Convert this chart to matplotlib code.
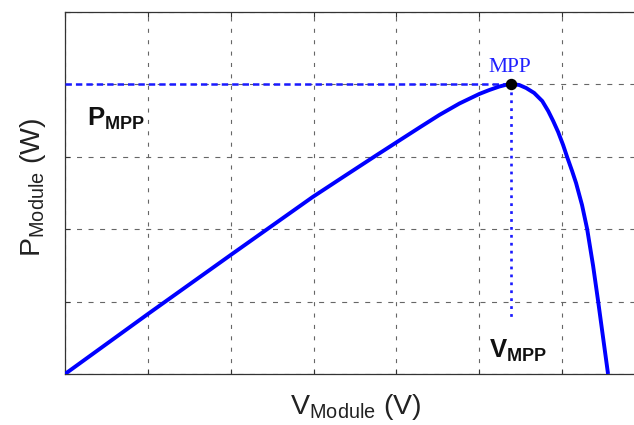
import matplotlib
matplotlib.use("Agg")
import matplotlib.pyplot as plt

# ---- data ----
v_module = [0.0, 5.0, 10.0, 14.94, 16.87, 18.73, 20.18, 21.39, 22.59, 23.80, 25.0,
            25.60, 26.20, 26.57, 26.93, 27.41, 27.83, 28.31, 28.80, 29.16, 29.46,
            29.76, 30.06, 30.30, 30.60, 30.84, 31.20, 31.51, 31.87, 32.17, 32.47, 32.77]
p_module = [0.0, 41.4, 82.2, 122.2, 136.7, 150.6, 161.3, 170.2, 178.9, 186.8, 193.4,
            196.1, 198.5, 199.6, 200.3, 199.6, 197.5, 194.1, 188.5, 181.6, 174.7,
            167.1, 158.1, 149.9, 140.2, 131.9, 116.7, 100.1, 74.6, 50.4, 25.2, 0.0]
v_mpp = 26.93
p_mpp = 200.3
v_mpp_line_bottom = 39.4
x_ticks = [0, 5, 10, 15, 20, 25, 30, 35]
y_ticks = [0, 50, 100, 150, 200, 250]

plt.rcParams['lines.scale_dashes'] = False
plt.rcParams['mathtext.fontset'] = 'custom'
plt.rcParams['mathtext.rm'] = 'Liberation Sans'
plt.rcParams['mathtext.bf'] = 'Liberation Sans:bold'
plt.rcParams['font.family'] = ['Liberation Sans', 'DejaVu Sans']

W, H = 634, 425
fig = plt.figure(figsize=(W / 100, H / 100), dpi=100)

def fx(px):
    return px / W

def fy(py):
    return 1 - py / H

ax_left, ax_right, ax_top, ax_bottom = 65, 645, 12, 374
ax = fig.add_axes([fx(ax_left), fy(ax_bottom), (ax_right - ax_left) / W, (ax_bottom - ax_top) / H])

ax.set_xlim(x_ticks[0], x_ticks[-1])
ax.set_ylim(y_ticks[0], y_ticks[-1])
ax.set_xticks(x_ticks)
ax.set_yticks(y_ticks)
ax.set_xticklabels([])
ax.set_yticklabels([])
ax.tick_params(direction='in', length=3.5, width=0.8, color='#333333',
               top=True, right=True)
ax.xaxis.grid(True, color='#666666', linewidth=0.8, linestyle=(0, (2.9, 5.3)))
ax.yaxis.grid(True, color='#666666', linewidth=0.8, linestyle=(0, (3.6, 4.7)))
for s in ax.spines.values():
    s.set_color('#333333')
    s.set_linewidth(0.9)

# MPP guide lines
ax.plot([x_ticks[0], v_mpp], [p_mpp, p_mpp], color='#1a1aff', linewidth=1.8,
        linestyle=(0, (4.6, 2.9)), zorder=3)
ax.plot([v_mpp, v_mpp], [p_mpp, v_mpp_line_bottom], color='#1a1aff', linewidth=1.9,
        linestyle=(0, (2.0, 3.7)), zorder=3)

# P-V curve
ax.plot(v_module, p_module, color='#0000ff', linewidth=2.8, solid_capstyle='butt',
        solid_joinstyle='round', zorder=4)
ax.plot([v_mpp], [p_mpp], 'o', color='black', markersize=7.2, zorder=5)

# annotations
fig.text(fx(510), fy(72), 'MPP', color='#2020ff', fontsize=15.5,
         family='Liberation Serif', ha='center', va='baseline')
fig.text(fx(87), fy(126), r'$\mathbf{P}_{\mathbf{MPP}}$', fontsize=18.5,
         ha='left', va='baseline', color='#111111')
fig.text(fx(489), fy(357), r'$\mathbf{V}_{\mathbf{MPP}}$', fontsize=18.5,
         ha='left', va='baseline', color='#111111')

# axis labels
fig.text(fx(356), fy(414), r'V$_{\mathrm{Module}}$ (V)', fontsize=20.5,
         ha='center', va='baseline', color='#222222')
fig.text(fx(40), fy(187), r'P$_{\mathrm{Module}}$ (W)', fontsize=20.5,
         ha='center', va='baseline', rotation=90, rotation_mode='anchor',
         color='#222222')

fig.savefig('out.png', dpi=100)
